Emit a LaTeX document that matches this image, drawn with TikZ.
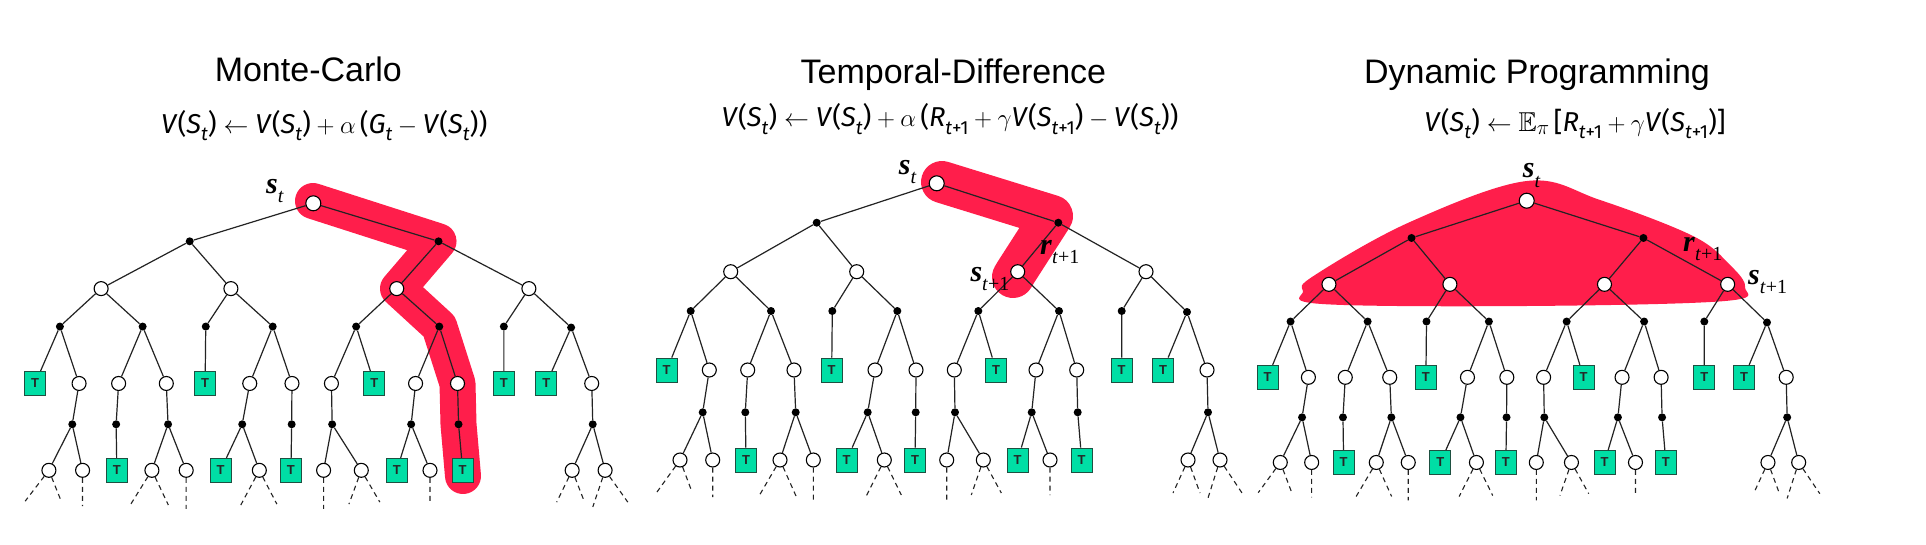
\documentclass[tikz,border=0pt]{standalone}
\usepackage{fontspec}
\usepackage{amssymb}
\newfontfamily\ttlfont{Liberation Sans}
\newfontfamily\frmfont{Fira Sans}
\newfontfamily\labfont{Liberation Serif}
\usetikzlibrary{calc}
\definecolor{hlred}{RGB}{255,30,75}
\definecolor{tgreen}{RGB}{0,222,165}
\definecolor{tedge}{RGB}{30,80,65}
\definecolor{edgec}{RGB}{35,35,35}
\newcommand\sbs[1]{\raisebox{-0.28em}{\fontsize{19}{19}\selectfont #1}}
\newcommand\lsb[1]{\raisebox{-0.32em}{\fontsize{20}{20}\selectfont #1}}
\tikzset{
 stn/.style={circle, draw=black, fill=white, line width=1.1pt, minimum size=14pt, inner sep=0pt},
 rootn/.style={stn, minimum size=15pt},
 acn/.style={circle, fill=black, minimum size=8pt, inner sep=0pt},
 tbox/.style={rectangle, draw=tedge, fill=tgreen, line width=0.9pt, minimum width=21pt, minimum height=24pt, inner sep=0pt, font=\ttlfont\bfseries\fontsize{13}{13}\selectfont, text=black!85},
 edge/.style={draw=edgec, line width=1.2pt},
 dsh/.style={draw=edgec, line width=1.1pt, dash pattern=on 5pt off 4pt},
 hl/.style={draw=hlred, line cap=round, line join=round},
 ttl/.style={font=\ttlfont\fontsize{34}{40}\selectfont, anchor=base, inner sep=0pt},
 frm/.style={font=\frmfont\fontsize{27.3}{32}\selectfont, anchor=base, inner sep=0pt},
 lab/.style={font=\labfont\fontsize{30}{34}\selectfont, anchor=base west, inner sep=0pt},
}
\newcommand\tree[1]{%
 \node[rootn] (#1R) at (0,0) {};
 \node[acn] (#1a1) at (-120,39.4) {};
 \node[acn] (#1a2) at (121.6,39.4) {};
 \node[stn] (#1s1) at (-206,88.4) {};
 \node[stn] (#1s2) at (-80,88.4) {};
 \node[stn] (#1s3) at (81,88.4) {};
 \node[stn] (#1s4) at (209.3,88.4) {};
 \node[acn] (#1b1) at (-246,127.7) {};
 \node[acn] (#1b2) at (-165.7,127.7) {};
 \node[acn] (#1b3) at (-104.4,127.7) {};
 \node[acn] (#1b4) at (-39.4,127.7) {};
 \node[acn] (#1b5) at (41.6,127.7) {};
 \node[acn] (#1b6) at (122.3,127.7) {};
 \node[acn] (#1b7) at (185,127.7) {};
 \node[acn] (#1b8) at (250.3,128.7) {};
 \node[tbox] (#1t1) at (-270,186.7) {T};
 \node[stn] (#1w1) at (-227.4,186.7) {};
 \node[stn] (#1w2) at (-189,186.7) {};
 \node[stn] (#1w3) at (-142.7,186.7) {};
 \node[tbox] (#1t2) at (-105,186.7) {T};
 \node[stn] (#1w4) at (-61.7,186.7) {};
 \node[stn] (#1w5) at (-20.7,186.7) {};
 \node[stn] (#1w6) at (17.6,186.7) {};
 \node[tbox] (#1t3) at (59.3,186.7) {T};
 \node[stn] (#1w7) at (99.3,186.7) {};
 \node[stn] (#1w8) at (140,186.7) {};
 \node[tbox] (#1t4) at (185,186.7) {T};
 \node[tbox] (#1t5) at (226.3,186.7) {T};
 \node[stn] (#1w9) at (270.3,186.7) {};
 \node[acn] (#1c1) at (-234,229) {};
 \node[acn] (#1c2) at (-191.4,229) {};
 \node[acn] (#1c3) at (-141,229) {};
 \node[acn] (#1c4) at (-69,229) {};
 \node[acn] (#1c5) at (-21,229) {};
 \node[acn] (#1c6) at (18.3,229) {};
 \node[acn] (#1c7) at (95,229) {};
 \node[acn] (#1c8) at (141,229) {};
 \node[acn] (#1c9) at (271.3,229) {};
 \node[stn] (#1d1) at (-256.7,276.7) {};
 \node[stn] (#1d2) at (-224,276.7) {};
 \node[tbox] (#1u1) at (-190.7,276.7) {T};
 \node[stn] (#1d3) at (-156.7,276.7) {};
 \node[stn] (#1d4) at (-123.4,276.7) {};
 \node[tbox] (#1u2) at (-90,276.7) {T};
 \node[stn] (#1d5) at (-52.4,276.7) {};
 \node[tbox] (#1u3) at (-21.7,276.7) {T};
 \node[stn] (#1d6) at (10,276.7) {};
 \node[stn] (#1d7) at (46.6,276.7) {};
 \node[tbox] (#1u4) at (81,276.7) {T};
 \node[stn] (#1d8) at (113.3,276.7) {};
 \node[tbox] (#1u5) at (145,276.7) {T};
 \node[stn] (#1d9) at (251.3,276.7) {};
 \node[stn] (#1d10) at (283.3,276.7) {};
 \draw[edge] (#1R) -- (#1a1) (#1R) -- (#1a2)
  (#1a1) -- (#1s1) (#1a1) -- (#1s2) (#1a2) -- (#1s3) (#1a2) -- (#1s4)
  (#1s1) -- (#1b1) (#1s1) -- (#1b2) (#1s2) -- (#1b3) (#1s2) -- (#1b4)
  (#1s3) -- (#1b5) (#1s3) -- (#1b6) (#1s4) -- (#1b7) (#1s4) -- (#1b8)
  (#1b1) -- (#1t1) (#1b1) -- (#1w1) (#1b2) -- (#1w2) (#1b2) -- (#1w3)
  (#1b3) -- (#1t2) (#1b4) -- (#1w4) (#1b4) -- (#1w5) (#1b5) -- (#1w6)
  (#1b5) -- (#1t3) (#1b6) -- (#1w7) (#1b6) -- (#1w8) (#1b7) -- (#1t4)
  (#1b8) -- (#1t5) (#1b8) -- (#1w9)
  (#1w1) -- (#1c1) (#1w2) -- (#1c2) (#1w3) -- (#1c3) (#1w4) -- (#1c4)
  (#1w5) -- (#1c5) (#1w6) -- (#1c6) (#1w7) -- (#1c7) (#1w8) -- (#1c8)
  (#1w9) -- (#1c9)
  (#1c1) -- (#1d1) (#1c1) -- (#1d2) (#1c2) -- (#1u1) (#1c3) -- (#1d3)
  (#1c3) -- (#1d4) (#1c4) -- (#1u2) (#1c4) -- (#1d5) (#1c5) -- (#1u3)
  (#1c6) -- (#1d6) (#1c6) -- (#1d7) (#1c7) -- (#1u4) (#1c7) -- (#1d8)
  (#1c8) -- (#1u5) (#1c9) -- (#1d9) (#1c9) -- (#1d10);
 \draw[dsh] (#1d1) -- ++(-23,32) (#1d1) -- ++(12,32)
  (#1d2) -- ++(0,37)
  (#1d3) -- ++(-21,36) (#1d3) -- ++(16,36)
  (#1d4) -- ++(0,40)
  (#1d5) -- ++(-18,36) (#1d5) -- ++(17,35)
  (#1d6) -- ++(0,40)
  (#1d7) -- ++(-12,35) (#1d7) -- ++(18,33)
  (#1d8) -- ++(0,35)
  (#1d9) -- ++(-15,33) (#1d9) -- ++(12,33)
  (#1d10) -- ++(-12,38) (#1d10) -- ++(22,33);
}
\begin{document}
\begin{tikzpicture}[x=1pt,y=-1pt]
\fill[white] (0,0) rectangle (1926,544);
\useasboundingbox (0,0) rectangle (1926,544);
% highlights
\draw[hl, line width=36pt] (313,201) -- (438.5,241.3) -- (398,288.6) -- (439.3,326.5) -- (457.5,383.5) -- (458.5,424.3) -- (463,476);
\draw[hl, line width=42pt] (942,182) -- (1052,216) -- (1016,272) -- (1013,277);
\fill[hlred] plot[smooth cycle, tension=0.6] coordinates {(1526.7,181) (1600,200) (1693,236) (1730,265) (1745,287) (1725,301) (1526,306) (1322,304) (1303,291) (1315,275) (1410,222)};
% trees
\begin{scope}[shift={(313.3,203.3)}, xscale=1.03, yscale=0.965]
\tree{mc}
\end{scope}
\begin{scope}[shift={(936.7,183.3)}]
\tree{td}
\end{scope}
\begin{scope}[shift={(1526.7,200.7)}, xscale=0.96, yscale=0.946]
\tree{dp}
\end{scope}
% titles
\node[ttl] (mctitle) at (308.3,81.7) {Monte-Carlo};
\node[ttl] (tdtitle) at (953.4,83.3) {Temporal-Difference};
\node[ttl] (dptitle) at (1537,83) {Dynamic Programming};
% formulas
\node[frm] (mcform) at (324.2,133.3) {\textit{V}(\textit{S}\sbs{\textit{t}})${}\leftarrow{}$\textit{V}(\textit{S}\sbs{\textit{t}})${}+\alpha\,$(\textit{G}\sbs{\textit{t}}${}-{}$\textit{V}(\textit{S}\sbs{\textit{t}}))};
\node[frm] (tdform) at (950,126.5) {\textit{V}(\textit{S}\sbs{\textit{t}})${}\leftarrow{}$\textit{V}(\textit{S}\sbs{\textit{t}})${}+\alpha\,$(\textit{R}\sbs{\textit{t}+1}${}+\gamma$\textit{V}(\textit{S}\sbs{\textit{t}+1})${}-{}$\textit{V}(\textit{S}\sbs{\textit{t}}))};
\node[frm] (dpform) at (1575,131) {\textit{V}(\textit{S}\sbs{\textit{t}})${}\leftarrow\mathbb{E}_\pi\,$[\textit{R}\sbs{\textit{t}+1}${}+\gamma$\textit{V}(\textit{S}\sbs{\textit{t}+1})]};
% labels
\node[lab] (mcst) at (266,193) {\textbf{\textit{s}}\lsb{\textit{t}}};
\node[lab] (tdst) at (898.7,174.3) {\textbf{\textit{s}}\lsb{\textit{t}}};
\node[lab] (tdrt) at (1040,254) {\textbf{\textit{r}}\lsb{\textit{t}+1}};
\node[lab] (tdst1) at (970.3,281) {\textbf{\textit{s}}\lsb{\textit{t}+1}};
\node[lab] (dpst) at (1522.7,177.7) {\textbf{\textit{s}}\lsb{\textit{t}}};
\node[lab] (dprt) at (1683,251) {\textbf{\textit{r}}\lsb{\textit{t}+1}};
\node[lab] (dpst1) at (1748,284.3) {\textbf{\textit{s}}\lsb{\textit{t}+1}};
\end{tikzpicture}
\end{document}
